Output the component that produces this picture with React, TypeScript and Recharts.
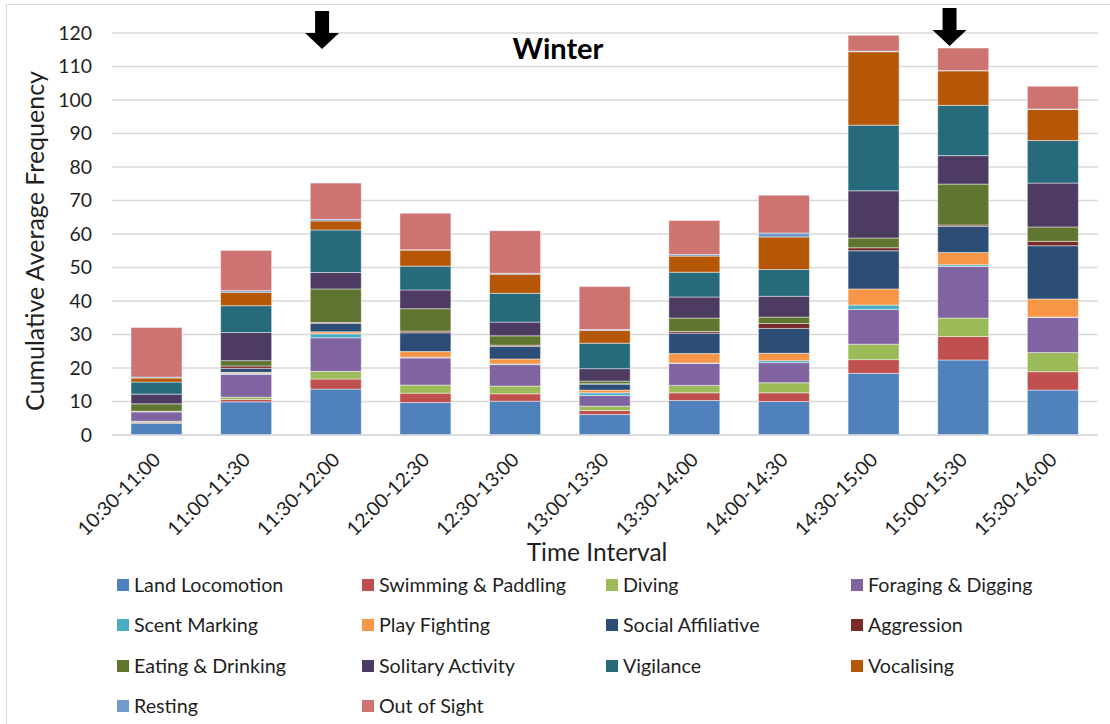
import React from "react";
import { BarChart, Bar, XAxis, YAxis, CartesianGrid, Legend } from "recharts";

const categories = [
  "10:30-11:00", "11:00-11:30", "11:30-12:00", "12:00-12:30", "12:30-13:00", "13:00-13:30",
  "13:30-14:00", "14:00-14:30", "14:30-15:00", "15:00-15:30", "15:30-16:00",
];

const landLocomotion = [3.5, 9.9, 13.7, 9.7, 10.1, 6.1, 10.3, 10.0, 18.4, 22.4, 13.4];
const swimmingPaddling = [0.3, 0.7, 3.0, 2.8, 2.2, 1.2, 2.3, 2.6, 4.1, 7.0, 5.5];
const diving = [0.3, 0.7, 2.3, 2.4, 2.3, 1.3, 2.2, 3.0, 4.6, 5.5, 5.7];
const foragingDigging = [2.8, 6.8, 10.0, 8.1, 6.4, 3.2, 6.6, 6.0, 10.4, 15.4, 10.5];
const scentMarking = [0.1, 0.3, 1.2, 0.2, 0.2, 0.8, 0.1, 0.6, 1.3, 0.5, 0.1];
const playFighting = [0.1, 0.3, 0.6, 1.7, 1.5, 0.8, 2.8, 2.2, 4.8, 3.7, 5.4];
const socialAffiliative = [0, 1.2, 2.5, 5.6, 3.7, 1.8, 6.1, 7.4, 11.4, 7.8, 15.9];
const aggression = [0, 0.7, 0.3, 0.5, 0.4, 0.1, 0.5, 1.5, 0.9, 0.4, 1.3];
const eatingDrinking = [2.2, 1.6, 10.0, 6.7, 2.8, 0.8, 4.0, 1.9, 2.9, 12.2, 4.3];
const solitaryActivity = [2.9, 8.4, 4.9, 5.6, 4.1, 3.7, 6.3, 6.2, 14.1, 8.5, 13.1];
const vigilance = [3.6, 8.0, 12.7, 7.1, 8.6, 7.6, 7.4, 8.0, 19.6, 15.0, 12.7];
const vocalising = [1.2, 4.0, 2.7, 4.8, 5.7, 3.8, 4.8, 9.7, 21.9, 10.3, 9.3];
const resting = [0.3, 0.5, 0.5, 0.1, 0.3, 0.3, 0.5, 1.2, 0.2, 0.1, 0.1];
const outOfSight = [14.8, 12.0, 10.8, 10.9, 12.7, 12.8, 10.1, 11.3, 4.7, 6.7, 6.8];

const yTicks = [0, 10, 20, 30, 40, 50, 60, 70, 80, 90, 100, 110, 120];
const arrowCategories = ["11:30-12:00", "15:00-15:30"];

const series = [
  { key: "Land Locomotion", values: landLocomotion, color: "#4F81BD" },
  { key: "Swimming & Paddling", values: swimmingPaddling, color: "#C0504D" },
  { key: "Diving", values: diving, color: "#9BBB59" },
  { key: "Foraging & Digging", values: foragingDigging, color: "#8064A2" },
  { key: "Scent Marking", values: scentMarking, color: "#4BACC6" },
  { key: "Play Fighting", values: playFighting, color: "#F79646" },
  { key: "Social Affiliative", values: socialAffiliative, color: "#2C4D75" },
  { key: "Aggression", values: aggression, color: "#772C2A" },
  { key: "Eating & Drinking", values: eatingDrinking, color: "#5F7530" },
  { key: "Solitary Activity", values: solitaryActivity, color: "#4D3B62" },
  { key: "Vigilance", values: vigilance, color: "#276A7C" },
  { key: "Vocalising", values: vocalising, color: "#B65708" },
  { key: "Resting", values: resting, color: "#729ACA" },
  { key: "Out of Sight", values: outOfSight, color: "#CD7371" },
];

const data = categories.map((c, i) => {
  const row: Record<string, any> = { name: c };
  series.forEach((s) => (row[s.key] = s.values[i]));
  return row;
});

const FONT = "Lato, 'Open Sans', sans-serif";
const TEXT = "#1f1f1f";

const XTick = (props: any) => {
  const { x, y, payload } = props;
  const ax = x + 5;
  const ay = y + 24;
  return (
    <text
      x={ax}
      y={ay}
      transform={`rotate(-45 ${ax} ${ay})`}
      textAnchor="end"
      fontSize={19.5}
      fontFamily={FONT}
      fill={TEXT}
    >
      {payload.value}
    </text>
  );
};

const LegendContent = () => {
  const cols = [117, 362, 606, 851];
  return (
    <div style={{ position: "relative", width: 1110, height: 150, fontFamily: FONT }}>
      {series.map((s, i) => {
        const col = i % 4;
        const row = Math.floor(i / 4);
        return (
          <div
            key={s.key}
            style={{
              position: "absolute",
              left: cols[col],
              top: 20 + row * 40.4 - 12,
              height: 24,
              display: "flex",
              alignItems: "center",
              whiteSpace: "nowrap",
            }}
          >
            <span style={{ display: "inline-block", width: 12, height: 12, background: s.color, marginRight: 5 }} />
            <span style={{ fontSize: 19.7, color: TEXT, lineHeight: "24px" }}>{s.key}</span>
          </div>
        );
      })}
    </div>
  );
};

const PLOT_LEFT = 112;
const PLOT_RIGHT = 1098;
const catWidth = (PLOT_RIGHT - PLOT_LEFT) / categories.length;

const Arrow = ({ cx, top }: { cx: number; top: number }) => (
  <path
    d={`M ${cx - 7} ${top} L ${cx + 7} ${top} L ${cx + 7} ${top + 22} L ${cx + 17} ${top + 22} L ${cx} ${top + 38} L ${cx - 17} ${top + 22} L ${cx - 7} ${top + 22} Z`}
    fill="#000"
  />
);

export default function App() {
  return (
    <div style={{ position: "absolute", left: 0, top: 0, width: 1110, height: 724, background: "#fff" }}>
      <div
        style={{
          position: "absolute",
          left: 6,
          top: 4,
          width: 1120,
          height: 740,
          border: "1px solid #d9d9d9",
          boxSizing: "border-box",
        }}
      />
      <BarChart
        width={1110}
        height={724}
        data={data}
        margin={{ top: 33, right: 12, bottom: 0, left: 0 }}
        barSize={51}
        style={{ position: "absolute", left: 0, top: 0 }}
      >
        <CartesianGrid vertical={false} stroke="#d9d9d9" strokeWidth={1.3} />
        <XAxis
          dataKey="name"
          height={139}
          interval={0}
          tickLine={false}
          tickSize={0}
          axisLine={{ stroke: "#d9d9d9", strokeWidth: 1.5 }}
          tick={<XTick />}
        />
        <YAxis
          width={112}
          domain={[0, 120]}
          ticks={yTicks}
          interval={0}
          tickLine={false}
          axisLine={false}
          tickSize={0}
          tickMargin={20}
          tick={{ fontSize: 19.4, fontFamily: FONT, fill: TEXT }}
        />
        <Legend
          content={<LegendContent />}
          verticalAlign="bottom"
          wrapperStyle={{ position: "absolute", left: 0, top: 565, width: 1110, height: 150 }}
        />
        {series.map((s) => (
          <Bar
            key={s.key}
            dataKey={s.key}
            stackId="a"
            fill={s.color}
            stroke="rgba(255,255,255,0.45)"
            strokeWidth={1}
            isAnimationActive={false}
          />
        ))}
        <text
          x={558}
          y={47}
          textAnchor="middle"
          dominantBaseline="central"
          fontSize={29}
          fontWeight="bold"
          fontFamily={FONT}
          fill="#000"
        >
          Winter
        </text>
        <text
          x={597}
          y={551}
          textAnchor="middle"
          dominantBaseline="central"
          fontSize={24.5}
          fontFamily={FONT}
          fill={TEXT}
        >
          Time Interval
        </text>
        <text
          x={34}
          y={241}
          transform="rotate(-90 34 241)"
          textAnchor="middle"
          dominantBaseline="central"
          fontSize={25}
          fontFamily={FONT}
          fill={TEXT}
        >
          Cumulative Average Frequency
        </text>
        {arrowCategories.map((c) => {
          const idx = categories.indexOf(c);
          const cx = PLOT_LEFT + catWidth * (idx + 0.5) - 14;
          return <Arrow key={c} cx={cx} top={idx === 2 ? 11 : 8} />;
        })}
      </BarChart>
    </div>
  );
}
